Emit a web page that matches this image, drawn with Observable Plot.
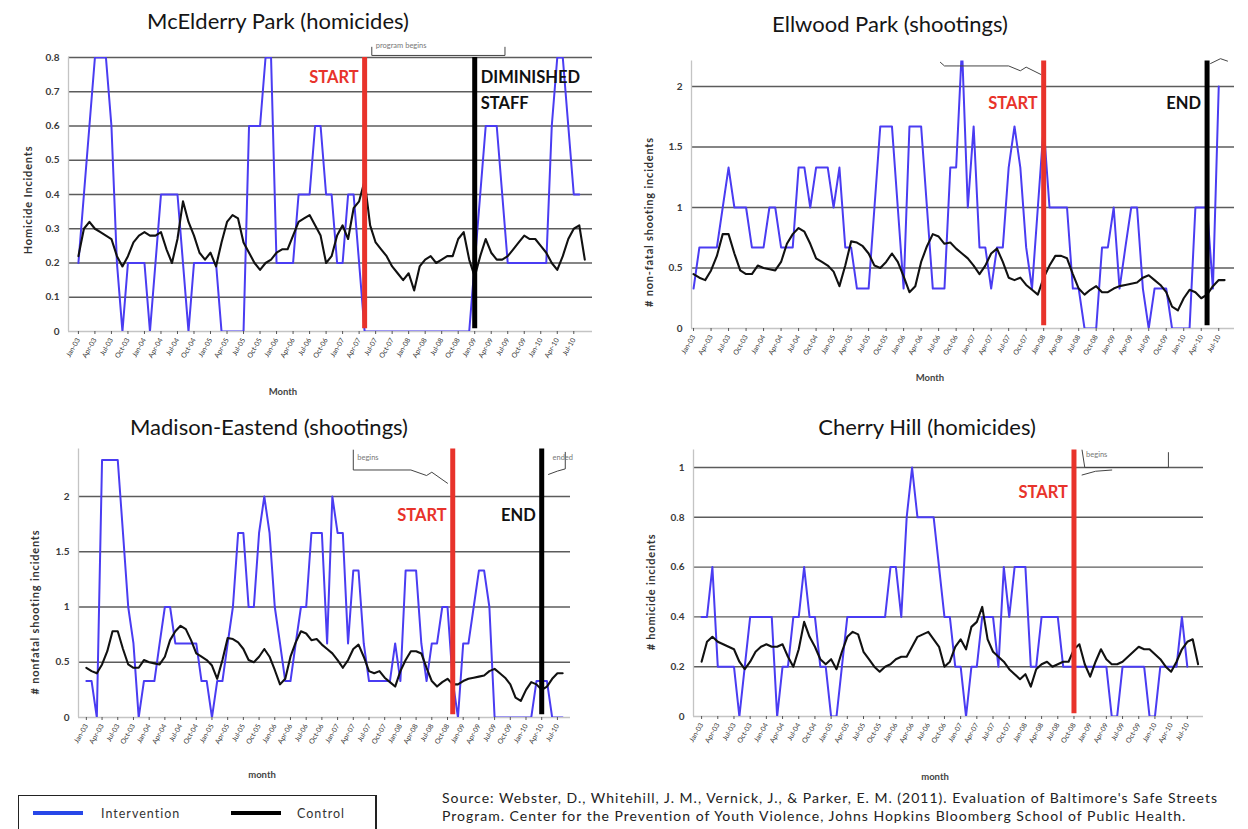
<!DOCTYPE html>
<html><head><meta charset="utf-8">
<script src="https://cdn.jsdelivr.net/npm/d3@7"></script>
<script src="https://cdn.jsdelivr.net/npm/@observablehq/plot@0.6"></script>
<style>
body{margin:0;background:#fff;font-family:Lato,"Open Sans",sans-serif;}
#root{position:relative;width:1248px;height:829px;overflow:hidden;background:#fff;}
.title{position:absolute;font-size:22px;color:#151515;white-space:nowrap;transform:translateX(-50%);line-height:1;}
.ylab{position:absolute;font-size:11px;font-weight:bold;letter-spacing:0.8px;color:#333;white-space:nowrap;transform:translate(-50%,-50%) rotate(-90deg);}
.xlab{position:absolute;font-size:9.5px;font-weight:bold;color:#444;transform:translateX(-50%);}
.legend{position:absolute;left:18px;top:795px;width:356px;height:40px;border:1px solid #222;border-right-width:2px;}
.src{position:absolute;left:442px;top:789px;font-size:14px;letter-spacing:1px;line-height:18px;color:#222;white-space:nowrap;}
</style></head>
<body><div id="root"></div>
<script>
// ---------- data ----------
const monthNames = ["Jan","Feb","Mar","Apr","May","Jun","Jul","Aug","Sep","Oct","Nov","Dec"];
const firstYear = 2003;

// control series (homicides) – shared by McElderry Park and Cherry Hill
const homicideControl = [0.22,0.30,0.32,0.30,0.29,0.28,0.27,0.22,0.19,0.22,
 0.26,0.28,0.29,0.28,0.28,0.29,0.24,0.20,0.27,0.38,
 0.32,0.28,0.23,0.21,0.23,0.19,0.26,0.32,0.34,0.33,
 0.26,0.23,0.20,0.18,0.20,0.21,0.23,0.24,0.24,0.28,
 0.32,0.33,0.34,0.31,0.28,0.20,0.22,0.28,0.31,0.27,
 0.36,0.38,0.44,0.31,0.26,0.24,0.22,0.19,0.17,0.15,
 0.17,0.12,0.19,0.21,0.22,0.20,0.21,0.22,0.22,0.27,
 0.29,0.21,0.16,0.22,0.27,0.23,0.21,0.21,0.22,0.24,
 0.26,0.28,0.27,0.27,0.25,0.23,0.20,0.18,0.22,0.27,
 0.30,0.31,0.21];

// control series (shootings) – shared by Ellwood Park and Madison-Eastend
const shootingControl = [0.45,0.42,0.40,0.48,0.60,0.78,0.78,0.62,0.48,0.45,
 0.45,0.52,0.50,0.49,0.48,0.55,0.70,0.78,0.83,0.80,
 0.70,0.58,0.55,0.52,0.47,0.35,0.52,0.72,0.71,0.68,
 0.62,0.52,0.50,0.55,0.62,0.55,0.43,0.30,0.35,0.55,
 0.68,0.78,0.76,0.70,0.71,0.66,0.62,0.58,0.52,0.45,
 0.52,0.62,0.66,0.55,0.42,0.40,0.42,0.36,0.32,0.28,
 0.42,0.52,0.60,0.60,0.58,0.45,0.33,0.28,0.32,0.35,
 0.30,0.30,0.33,0.35,0.36,0.37,0.38,0.42,0.44,0.40,
 0.36,0.30,0.18,0.15,0.25,0.32,0.30,0.25,0.28,0.35,
 0.40,0.40];

const mcelderryInterv = [0.2,0.4,0.6,0.8,0.8,0.8,0.6,0.2,0,0.2,
 0.2,0.2,0.2,0,0.2,0.4,0.4,0.4,0.4,0.2,
 0,0.2,0.2,0.2,0.2,0.2,0,0,0,0,
 0,0.6,0.6,0.6,0.8,0.8,0.2,0.2,0.2,0.2,
 0.4,0.4,0.4,0.6,0.6,0.4,0.4,0.2,0.2,0.4,
 0.4,0.2,0,0,0,0,0,0,0,0,
 0,0,0,0,0,0,0,0,0,0,
 0,0,0.2,0.4,0.6,0.6,0.6,0.4,0.2,0.2,
 0.2,0.2,0.2,0.2,0.2,0.2,0.6,0.8,0.8,0.6,
 0.4,0.4];

const ellwoodInterv = [0.33,0.67,0.67,0.67,0.67,1.0,1.33,1.0,1.0,1.0,
 0.67,0.67,0.67,1.0,1.0,0.67,0.67,0.67,1.33,1.33,
 1.0,1.33,1.33,1.33,1.0,1.33,0.67,0.67,0.33,0.33,
 0.33,1.0,1.67,1.67,1.67,1.0,0.33,1.67,1.67,1.67,
 1.0,0.33,0.33,0.33,1.33,1.33,2.33,1.0,1.67,0.67,
 0.67,0.33,0.67,0.67,1.33,1.67,1.33,0.67,0.33,1.0,
 1.67,1.0,1.0,1.0,1.0,0.33,0.33,0,0,0,
 0.67,0.67,1.0,0.33,0.67,1.0,1.0,0.33,0,0.33,
 0.33,0.33,0,0,0,0,1.0,1.0,1.0,0.33,2.0];

const madisonInterv = [0.33,0.33,0,2.33,2.33,2.33,2.33,1.67,1.0,0.67,
 0,0.33,0.33,0.33,0.67,1.0,1.0,0.67,0.67,0.67,
 0.67,0.67,0.33,0.33,0,0.33,0.33,0.67,1.0,1.67,
 1.67,1.0,1.0,1.67,2.0,1.67,1.0,0.67,0.33,0.33,
 0.67,1.0,1.0,1.67,1.67,1.67,0.67,2.0,1.67,1.67,
 0.67,1.33,1.33,0.67,0.33,0.33,0.33,0.33,0.33,0.67,
 0.33,1.33,1.33,1.33,0.67,0.33,0.67,0.67,1.0,1.0,
 0.33,0,0.67,0.67,1.0,1.33,1.33,1.0,0,0,
 0,0,0,0,0,0,0.33,0.33,0.33,0,0,0];

const cherryInterv = [0.4,0.4,0.6,0.2,0.2,0.2,0.2,0,0.2,0.4,
 0.4,0.4,0.4,0.4,0,0.2,0.2,0.4,0.4,0.6,
 0.4,0.4,0.2,0.2,0,0,0.2,0.4,0.4,0.4,
 0.4,0.4,0.4,0.4,0.4,0.6,0.6,0.4,0.8,1.0,
 0.8,0.8,0.8,0.8,0.6,0.4,0.4,0.2,0.2,0,
 0.2,0.2,0.4,0.4,0.4,0.2,0.6,0.4,0.6,0.6,
 0.6,0.2,0.2,0.4,0.4,0.4,0.4,0.2,0.2,0.2,
 0.2,0.2,0.2,0.2,0.2,0.2,0,0,0.2,0.2,
 0.2,0.2,0.2,0,0,0.2,0.2,0.2,0.2,0.4,0.2];

const homicideTicks = [0,0.1,0.2,0.3,0.4,0.5,0.6,0.7,0.8];
const shootingTicks = [0,0.5,1,1.5,2];
const cherryTicks = [0,0.2,0.4,0.6,0.8,1];

// month index of program events
const mcelderryStart = 52, mcelderryStaff = 72;
const ellwoodStart = 60, ellwoodEnd = 88;
const madisonStart = 70, madisonEnd = 87;
const cherryStart = 69;

// ---------- drawing ----------
const root = document.getElementById("root");
const monthLabel = i => monthNames[i % 12] + "-" + String((firstYear + Math.floor(i / 12)) % 100).padStart(2, "0");
const BLUE = "#4a3cf2", RED = "#e8332b";

function addDiv(cls, text, style) {
  const d = document.createElement("div");
  d.className = cls; d.textContent = text;
  Object.assign(d.style, style);
  root.appendChild(d);
  return d;
}

function panel(c) {
  const n = Math.max(c.interv.length, c.control.length);
  const blue = c.interv.map((v, i) => ({i, v}));
  const black = c.control.map((v, i) => ({i, v}));
  const ticks = d3.range(0, n, 3);
  const top = c.yDomain[1];
  const marks = [
    Plot.ruleY(c.yTicks.filter(v => v > 0), {stroke: "#5c5c5c", strokeWidth: 1.4}),
    Plot.ruleY([0], {stroke: "#c4c4c4", strokeWidth: 1.3}),
    Plot.ruleX([c.xDomain[0]], {stroke: "#c4c4c4", strokeWidth: 1.3}),
    Plot.axisY(c.yTicks, {tickSize: 0, tickPadding: 9, fontSize: 10, fontWeight: "bold", fill: "#3a3a3a", label: null, tickFormat: c.fmt}),
    Plot.axisX(ticks, {tickSize: 3, tickPadding: 4, tickRotate: -60, fontSize: 7, fill: "#333", stroke: "#555", label: null, tickFormat: monthLabel}),
    Plot.line(blue, {x: "i", y: "v", stroke: BLUE, strokeWidth: 2, clip: true}),
    Plot.line(black, {x: "i", y: "v", stroke: "#111", strokeWidth: 2.1}),
    Plot.ruleX([c.start], {y1: 0.01 * top, y2: top, stroke: RED, strokeWidth: 5}),
    Plot.text(["START"], {x: c.start, y: c.labelY, dx: -6, textAnchor: "end", fill: RED, fontWeight: "bold", fontSize: 16.5})
  ];
  if (c.end != null) {
    marks.push(Plot.ruleX([c.end], {y1: 0.01 * top, y2: top, stroke: "#000", strokeWidth: 5}));
    marks.push(Plot.text(c.endText, {x: c.end, y: (d, k) => c.labelY - k * c.lineStep, dx: c.endDx, textAnchor: c.endAnchor, fill: "#111", fontWeight: "bold", fontSize: 16.5}));
  }
  // small call-out notes drawn at the top of each panel
  for (const co of c.callouts || []) {
    marks.push(Plot.line(co.path, {x: "i", y: "v", stroke: "#444", strokeWidth: 1}));
    if (co.text) marks.push(Plot.text([co.text], {x: co.path[0].i, y: co.textY, dx: 4, textAnchor: "start", fontSize: 7.5, fill: "#777"}));
  }
  const svg = Plot.plot({
    width: c.w, height: c.h,
    marginLeft: c.ml, marginRight: c.mr, marginTop: c.mt, marginBottom: c.mb,
    x: {domain: c.xDomain, axis: null},
    y: {domain: c.yDomain, axis: null},
    style: {background: "transparent", fontFamily: "Lato, sans-serif", overflow: "visible"},
    marks
  });
  svg.style.position = "absolute";
  svg.style.left = c.left + "px";
  svg.style.top = c.top + "px";
  root.appendChild(svg);
  addDiv("title", c.title, {left: c.titleX + "px", top: c.titleY + "px"});
  addDiv("ylab", c.yLabel, {left: c.yLabX + "px", top: c.yLabY + "px"});
  addDiv("xlab", c.xLabel, {left: c.xLabX + "px", top: c.xLabY + "px"});
}

panel({title: "McElderry Park (homicides)", titleX: 278, titleY: 10,
  left: 0, top: 40, w: 610, h: 370, ml: 68, mr: 18, mt: 17, mb: 79,
  xDomain: [-1.8, 93.4], yDomain: [0, 0.8], yTicks: homicideTicks, fmt: d => d === 0 ? "0" : d3.format(".1f")(d),
  interv: mcelderryInterv, control: homicideControl,
  start: mcelderryStart, end: mcelderryStaff, endText: ["DIMINISHED", "STAFF"], endDx: 6, endAnchor: "start",
  labelY: 0.74, lineStep: 0.075,
  callouts: [{path: [{i: 53.3, v: 0.83}, {i: 53.3, v: 0.806}, {i: 77.5, v: 0.806}, {i: 77.5, v: 0.83}], text: "program begins", textY: 0.835}],
  yLabel: "Homicide Incidents", yLabX: 27, yLabY: 200, xLabel: "Month", xLabX: 283, xLabY: 386});

panel({title: "Ellwood Park (shootings)", titleX: 890, titleY: 13,
  left: 620, top: 40, w: 628, h: 350, ml: 71, mr: 14, mt: 20.6, mb: 62,
  xDomain: [-0.35, 92.7], yDomain: [0, 2.21], yTicks: shootingTicks, fmt: d => String(d),
  interv: ellwoodInterv, control: shootingControl,
  start: ellwoodStart, end: ellwoodEnd, endText: ["END"], endDx: -6, endAnchor: "end",
  labelY: 1.86, lineStep: 0,
  callouts: [
    {path: [{i: 42.3, v: 2.2}, {i: 43, v: 2.17}, {i: 54, v: 2.17}, {i: 56, v: 2.13}, {i: 57, v: 2.16}, {i: 59.5, v: 2.1}]},
    {path: [{i: 88.6, v: 2.19}, {i: 90.3, v: 2.23}, {i: 91.5, v: 2.21}]}
  ],
  yLabel: "# non-fatal shooting incidents", yLabX: 648, yLabY: 222, xLabel: "Month", xLabX: 930, xLabY: 372});

panel({title: "Madison-Eastend (shootings)", titleX: 269, titleY: 416,
  left: 0, top: 430, w: 610, h: 360, ml: 78, mr: 40, mt: 18.5, mb: 73,
  xDomain: [-1.5, 92.5], yDomain: [0, 2.43], yTicks: shootingTicks, fmt: d => String(d),
  interv: madisonInterv, control: shootingControl,
  start: madisonStart, end: madisonEnd, endText: ["END"], endDx: -6, endAnchor: "end",
  labelY: 1.83, lineStep: 0,
  callouts: [
    {path: [{i: 51, v: 2.42}, {i: 51, v: 2.24}, {i: 62, v: 2.24}, {i: 65, v: 2.19}, {i: 66, v: 2.22}, {i: 69, v: 2.12}], text: "begins", textY: 2.35},
    {path: [{i: 88.3, v: 2.2}, {i: 90, v: 2.23}, {i: 91.5, v: 2.25}, {i: 91.5, v: 2.4}], text: "ended", textY: 2.35}
  ],
  yLabel: "# nonfatal shooting incidents", yLabX: 34, yLabY: 612, xLabel: "month", xLabX: 262, xLabY: 769});

panel({title: "Cherry Hill (homicides)", titleX: 927, titleY: 416,
  left: 620, top: 430, w: 628, h: 360, ml: 73, mr: 45, mt: 19.6, mb: 74,
  xDomain: [-1.5, 93], yDomain: [0, 1.07], yTicks: cherryTicks, fmt: d => d === 0 || d === 1 ? String(d) : d3.format(".1f")(d),
  interv: cherryInterv, control: homicideControl,
  start: cherryStart, end: null,
  labelY: 0.9, lineStep: 0,
  callouts: [
    {path: [{i: 70.5, v: 1.07}, {i: 71, v: 1.0}, {i: 86.5, v: 1.0}, {i: 86.5, v: 1.06}], text: "begins", textY: 1.05},
    {path: [{i: 70.5, v: 0.97}, {i: 73, v: 0.985}, {i: 76, v: 0.99}]}
  ],
  yLabel: "# homicide incidents", yLabX: 650, yLabY: 592, xLabel: "month", xLabX: 935, xLabY: 771});

// legend
const legend = addDiv("legend", "", {});
legend.innerHTML =
  '<svg width="356" height="40" style="position:absolute;left:0;top:0">' +
  '<line x1="14" x2="64" y1="17" y2="17" stroke="#2747e8" stroke-width="4"/>' +
  '<text x="82" y="21.5" font-size="12.5" letter-spacing="1" fill="#333" font-family="Lato, sans-serif">Intervention</text>' +
  '<line x1="212" x2="262" y1="17" y2="17" stroke="#000" stroke-width="4"/>' +
  '<text x="278" y="21.5" font-size="12.5" letter-spacing="1" fill="#333" font-family="Lato, sans-serif">Control</text></svg>';

// source
const src = addDiv("src", "", {});
src.innerHTML = "Source: Webster, D., Whitehill, J. M., Vernick, J., &amp; Parker, E. M. (2011). Evaluation of Baltimore's Safe Streets<br>Program. Center for the Prevention of Youth Violence, Johns Hopkins Bloomberg School of Public Health.";
</script>
</body></html>
